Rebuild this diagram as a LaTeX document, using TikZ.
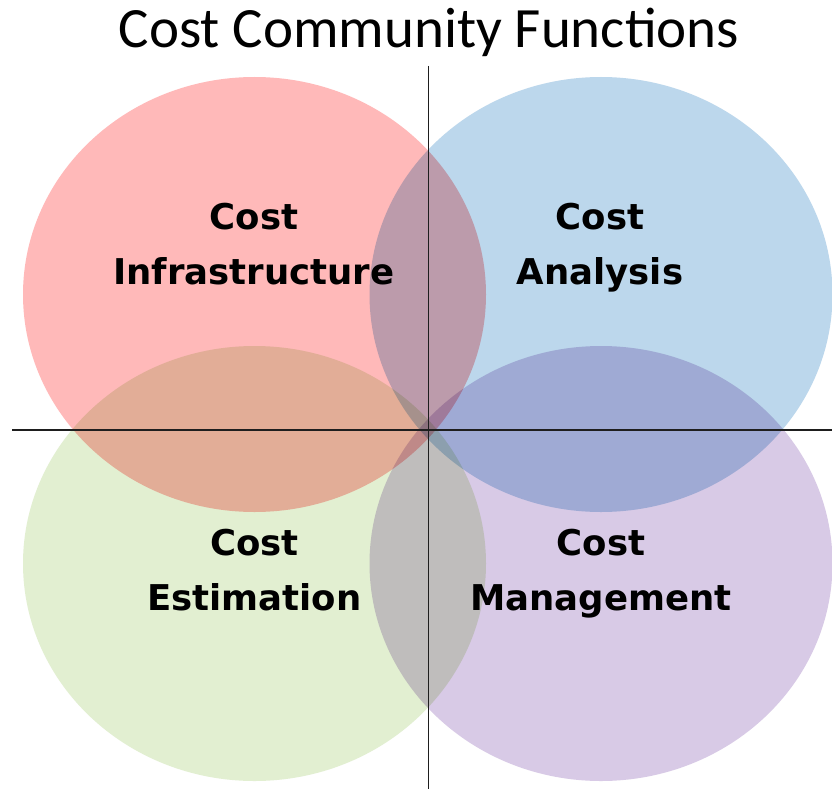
\documentclass[tikz,border=0pt]{standalone}
\usepackage{fontspec}
\setmainfont{Carlito}
\newfontfamily\labelfont{DejaVu Sans}
\definecolor{cred}{RGB}{255,185,185}
\definecolor{cblue}{RGB}{188,215,236}
\definecolor{cgreen}{RGB}{226,239,209}
\definecolor{cpurple}{RGB}{216,202,230}
\definecolor{axis}{RGB}{30,30,30}
\tikzset{
  blob/.style={blend mode=multiply},
  lbl/.style={font=\labelfont\bfseries\fontsize{35.5}{40}\selectfont, anchor=base, inner sep=0pt},
  axisline/.style={draw=axis, line width=1.9pt},
}
\begin{document}
\begin{tikzpicture}[x=1pt,y=-1pt]
\useasboundingbox[fill=white] (0,0) rectangle (832,789);
\begin{scope}[transparency group]
\fill[cred, blob] (254.5,294.5) ellipse [x radius=231.5, y radius=217.5];
\fill[cblue, blob] (601,294.5) ellipse [x radius=231.5, y radius=217.5];
\fill[cgreen, blob] (254.5,563.5) ellipse [x radius=231.5, y radius=217.5];
\fill[cpurple, blob] (601,563.5) ellipse [x radius=231.5, y radius=217.5];
\end{scope}
\coordinate (vtop) at (428.5,66);
\coordinate (vbot) at (428.5,789);
\coordinate (hleft) at (12,430);
\coordinate (hright) at (832,430);
\draw[axisline] (vtop) -- (vbot);
\draw[axisline] (hleft) -- (hright);
\node[anchor=base, inner sep=0pt, font=\fontsize{57}{64}\selectfont] (title) at (429,48) {Cost Community Functions};
\node[lbl] (infra1) at (254,229) {Cost};
\node[lbl] (infra2) at (254,284) {Infrastructure};
\node[lbl] (anal1) at (600,229) {Cost};
\node[lbl] (anal2) at (600,284) {Analysis};
\node[lbl] (est1) at (254.5,555) {Cost};
\node[lbl] (est2) at (254.5,610) {Estimation};
\node[lbl] (man1) at (601,555) {Cost};
\node[lbl] (man2) at (601,610) {Management};
\end{tikzpicture}
\end{document}
